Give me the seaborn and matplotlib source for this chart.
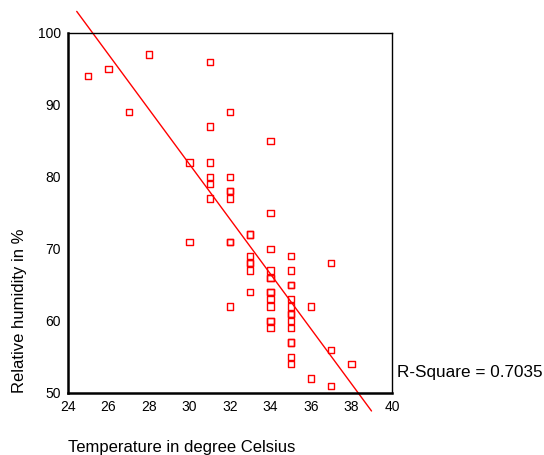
import numpy as np
import pandas as pd
import matplotlib
matplotlib.use("Agg")
import matplotlib.pyplot as plt
import seaborn as sns

# Observed temperature (deg C) and relative humidity (%) pairs
temperature = [25, 26, 28, 27, 31, 32, 31, 34, 30, 31, 31, 32, 31, 32, 32, 31, 32,
               34, 33, 33, 30, 32, 32, 34, 33, 35, 33, 33, 37, 33, 34, 35, 34, 34,
               35, 35, 33, 34, 34, 34, 35, 32, 34, 35, 36, 35, 35, 34, 34, 35, 34,
               35, 35, 35, 37, 35, 35, 38, 36, 37]
humidity = [94, 95, 97, 89, 96, 89, 87, 85, 82, 82, 80, 80, 79, 78, 78, 77, 77,
            75, 72, 72, 71, 71, 71, 70, 69, 69, 68, 68, 68, 67, 67, 67, 66, 66,
            65, 65, 64, 64, 64, 63, 63, 62, 62, 62, 62, 61, 61, 60, 60, 60, 59,
            59, 57, 57, 56, 55, 54, 54, 52, 51]

x_ticks = [24, 26, 28, 30, 32, 34, 36, 38, 40]
y_ticks = [50, 60, 70, 80, 90, 100]
r_square_label = "R-Square = 0.7035"

df = pd.DataFrame({"temp": temperature, "hum": humidity})

sns.set_style("white")
plt.rcParams["font.family"] = ["Liberation Sans", "DejaVu Sans"]
plt.rcParams["text.color"] = "black"
plt.rcParams["axes.labelcolor"] = "black"
plt.rcParams["xtick.color"] = "black"
plt.rcParams["ytick.color"] = "black"

fig = plt.figure(figsize=(5.44, 4.55), dpi=100)
ax = fig.add_axes([0.125, 0.1363, 0.5956, 0.7912])

red = "#ff0000"
sns.scatterplot(data=df, x="temp", y="hum", ax=ax, marker="s", s=20,
                facecolors="none", edgecolor=red, linewidth=1.0, legend=False)

# Least-squares fit line, extended slightly past the frame
slope, intercept = np.polyfit(df["temp"], df["hum"], 1)
y_ends = np.array([103.0, 47.5])
x_ends = (y_ends - intercept) / slope
ax.plot(x_ends, intercept + slope * x_ends, color=red, lw=1.0, clip_on=False)

ax.set_xlim(24, 40)
ax.set_ylim(50, 100)
ax.set_xticks(x_ticks)
ax.set_yticks(y_ticks)
ax.tick_params(axis="both", direction="out", length=3, width=2.5,
               labelsize=10, pad=2, labelcolor="black")
for side in ["left", "right", "top", "bottom"]:
    ax.spines[side].set_visible(True)
    ax.spines[side].set_color("black")
    ax.spines[side].set_linewidth(1.0)
ax.spines["left"].set_linewidth(1.8)
ax.spines["bottom"].set_linewidth(1.8)

ax.set_xlabel("Temperature in degree Celsius", fontsize=12, loc="left", labelpad=19)
ax.set_ylabel("Relative humidity in %", fontsize=12, loc="bottom", labelpad=8)

fig.text(397 / 544, 1 - 372 / 455, r_square_label, fontsize=12.3, ha="left", va="center")

fig.savefig("out.png", dpi=100, facecolor="white")
